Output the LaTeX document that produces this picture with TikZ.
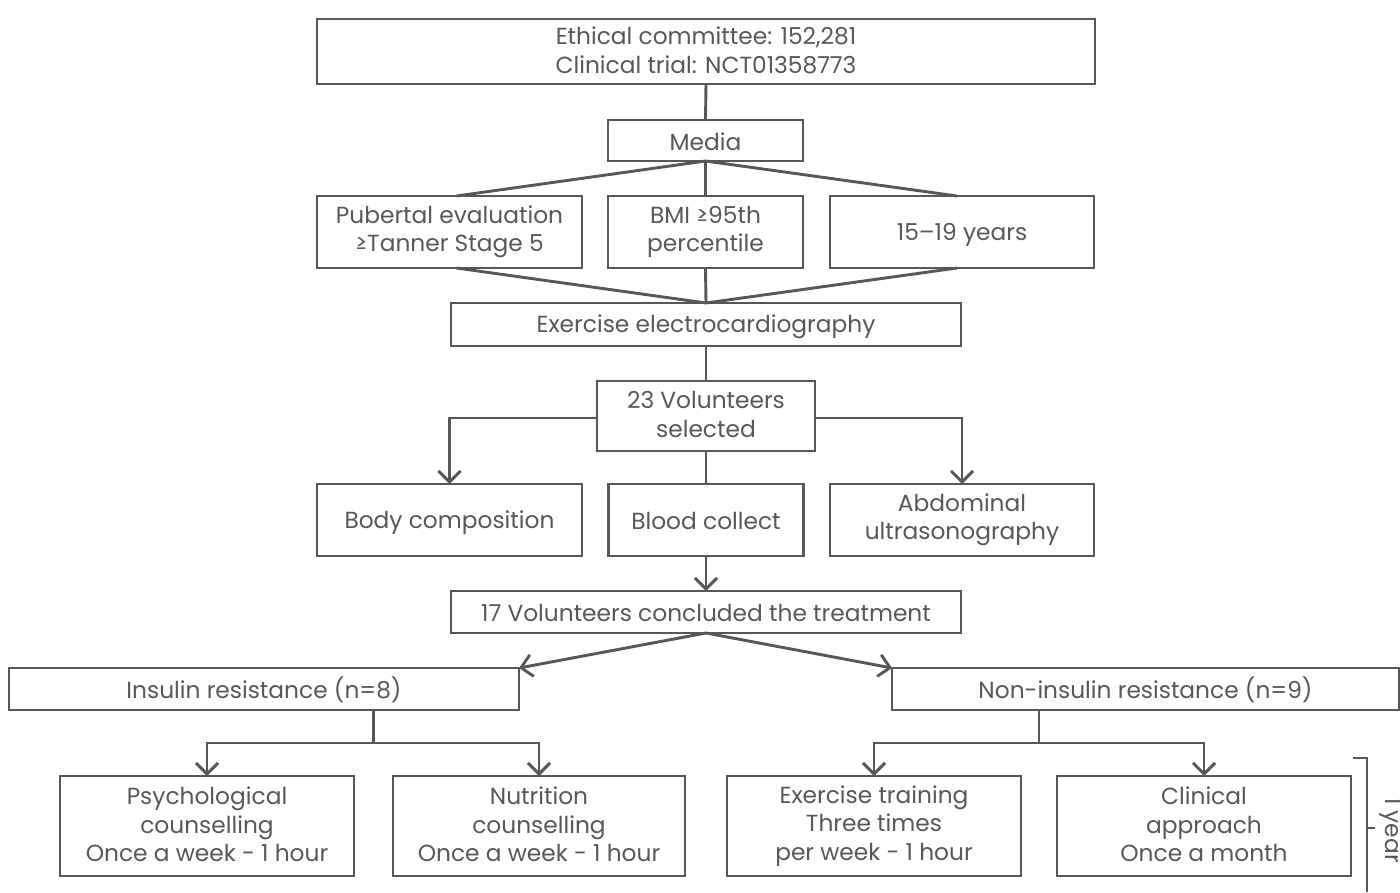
\documentclass[tikz,border=0pt]{standalone}
\usepackage{fontspec}
\setmainfont{Poppins}
\usetikzlibrary{arrows.meta,calc}
\definecolor{ink}{HTML}{575757}
\newcommand\bxs{\rule[-3.1pt]{0pt}{25.6pt}}
\begin{document}
\begin{tikzpicture}[x=1pt,y=-1pt,
  every node/.style={inner sep=0pt,outer sep=0pt},
  box/.style={draw=ink,line width=2.9pt,text=ink,align=center,font=\fontsize{23.3}{28.5}\selectfont,
    execute at begin node=\bxs, execute at end node=\bxs},
  conn/.style={draw=ink,line width=2.9pt},
  arr/.style={conn,-{Straight Barb[length=11pt,width=22pt]}}]
\useasboundingbox (0,0) rectangle (1400,892);
% nodes
\node[box,minimum width=778,minimum height=65] (top) at (706,51.5) {Ethical committee: 152,281\\Clinical trial: NCT01358773};
\node[box,minimum width=195,minimum height=41] (media) at (705.5,140.5) {Media};
\node[box,minimum width=265,minimum height=72] (pub) at (449.5,232) {Pubertal evaluation\\≥Tanner Stage 5};
\node[box,minimum width=195,minimum height=72] (bmi) at (705.5,232) {BMI ≥95th\\percentile};
\node[box,minimum width=264,minimum height=72] (age) at (962,232) {15–19 years};
\node[box,minimum width=510,minimum height=43] (ecg) at (706,324.5) {Exercise electrocardiography};
\node[box,minimum width=218,minimum height=70] (vol23) at (706,416) {23 Volunteers\\selected};
\node[box,minimum width=265,minimum height=72] (body) at (449.5,520) {Body composition};
\node[box,minimum width=195,minimum height=72] (blood) at (706,520) {Blood collect};
\node[box,minimum width=264,minimum height=72] (abd) at (962,520) {Abdominal\\ultrasonography};
\node[box,minimum width=510,minimum height=42] (vol17) at (706,612) {17 Volunteers concluded the treatment};
\node[box,minimum width=510,minimum height=42] (ir) at (264,689) {Insulin resistance (n=8)};
\node[box,minimum width=507,minimum height=42] (nir) at (1145.5,689) {Non-insulin resistance (n=9)};
\node[box,minimum width=294,minimum height=100] (psy) at (207,826) {Psychological\\counselling\\Once a week - 1 hour};
\node[box,minimum width=292,minimum height=100] (nut) at (539,826) {Nutrition\\counselling\\Once a week - 1 hour};
\node[box,minimum width=294,minimum height=100] (ext) at (874,826) {Exercise training\\Three times\\per week - 1 hour};
\node[box,minimum width=294,minimum height=100] (cli) at (1204,826) {Clinical\\approach\\Once a month};
% connectors
\draw[conn] (top.south) -- (media.north);
\draw[conn] ([xshift=7pt]pub.north) -- (media.south) -- ([xshift=-5pt]age.north);
\draw[conn] (media.south) -- (bmi.north);
\draw[conn] ([xshift=7pt]pub.south) -- (ecg.north) -- ([xshift=-5pt]age.south);
\draw[conn] (bmi.south) -- (ecg.north);
\draw[conn] (ecg.south) -- (vol23.north);
\draw[arr] ([yshift=-2pt]vol23.west) -| (body.north);
\draw[arr] ([yshift=-2pt]vol23.east) -| (abd.north);
\draw[conn] (vol23.south) -- (blood.north);
\draw[arr] (blood.south) -- (vol17.north);
\draw[arr] (vol17.south) -- (ir.north east);
\draw[arr] (vol17.south) -- (nir.north west);
\coordinate (jl) at (373.5,743);
\coordinate (jr) at (1039,743);
\draw[conn] (jl |- ir.south) -- (jl);
\draw[arr] (jl) -| (psy.north);
\draw[arr] (jl) -| (nut.north);
\draw[conn] (jr |- nir.south) -- (jr);
\draw[arr] (jr) -| (ext.north);
\draw[arr] (jr) -| (cli.north);
% one-year bracket
\coordinate (bt) at (1353,758);
\coordinate (bb) at (1367,892);
\coordinate (bm) at (1367,828);
\draw[conn] (bt) -| (bb);
\draw[conn] (bm) -- ++(8,0);
\node[text=ink,rotate=-90,font=\fontsize{23.3}{28}\selectfont] (yr) at (1391,830) {1 year};
\end{tikzpicture}
\end{document}
